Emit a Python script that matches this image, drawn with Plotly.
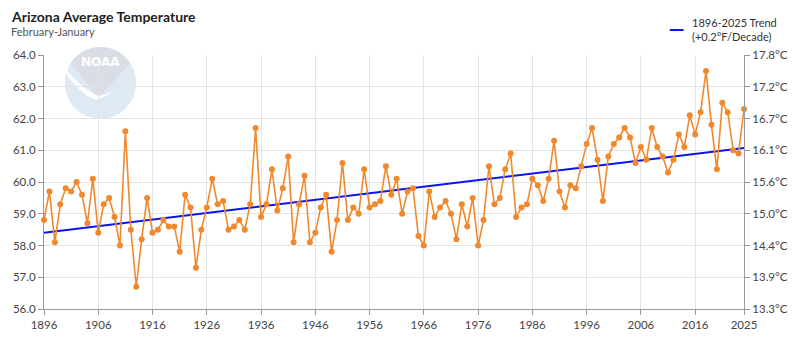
import numpy as np
import plotly.graph_objects as go

# Annual (February-January) average temperature for Arizona, degrees F
years = list(range(1896, 2026))
temps_f = [
    58.8, 59.7, 58.1, 59.3, 59.8, 59.7, 60.0, 59.6, 58.7, 60.1,  # 1896-1905
    58.4, 59.3, 59.5, 58.9, 58.0, 61.6, 58.5, 56.7, 58.2, 59.5,  # 1906-1915
    58.4, 58.5, 58.8, 58.6, 58.6, 57.8, 59.6, 59.2, 57.3, 58.5,  # 1916-1925
    59.2, 60.1, 59.3, 59.4, 58.5, 58.6, 58.8, 58.5, 59.3, 61.7,  # 1926-1935
    58.9, 59.3, 60.4, 59.1, 59.8, 60.8, 58.1, 59.3, 60.2, 58.1,  # 1936-1945
    58.4, 59.2, 59.6, 57.8, 58.8, 60.6, 58.8, 59.2, 59.0, 60.4,  # 1946-1955
    59.2, 59.3, 59.4, 60.5, 59.6, 60.1, 59.0, 59.7, 59.8, 58.3,  # 1956-1965
    58.0, 59.7, 58.9, 59.2, 59.4, 59.0, 58.2, 59.3, 58.6, 59.5,  # 1966-1975
    58.0, 58.8, 60.5, 59.3, 59.5, 60.4, 60.9, 58.9, 59.2, 59.3,  # 1976-1985
    60.1, 59.9, 59.4, 60.1, 61.3, 59.7, 59.2, 59.9, 59.8, 60.5,  # 1986-1995
    61.2, 61.7, 60.7, 59.4, 60.8, 61.2, 61.4, 61.7, 61.4, 60.6,  # 1996-2005
    61.1, 60.7, 61.7, 61.1, 60.8, 60.3, 60.7, 61.5, 61.1, 62.1,  # 2006-2015
    61.5, 62.2, 63.5, 61.8, 60.4, 62.5, 62.2, 61.0, 60.9, 62.3,  # 2016-2025
]
x_tick_years = [1896, 1906, 1916, 1926, 1936, 1946, 1956, 1966, 1976, 1986,
                1996, 2006, 2016, 2025]
f_ticks = [56, 57, 58, 59, 60, 61, 62, 63, 64]
c_tick_labels = [f"{(f - 32) * 5 / 9:.1f}°C" for f in f_ticks]

# Least-squares linear trend over the full record
slope, intercept = np.polyfit(years, temps_f, 1)
trend_x = [years[0], years[-1]]
trend_y = [slope * x + intercept for x in trend_x]
trend_name = f"{years[0]}-{years[-1]} Trend"
trend_rate = f"(+{slope * 10:.1f}°F/Decade)"

ORANGE = "#f0892e"
BLUE = "#0a14f0"
FONT = "Lato"
W, H = 800, 345
ML, MR, MT, MB = 44, 49, 55, 36
PW, PH = W - ML - MR, H - MT - MB


def px(x):
    return (x - ML) / PW


def py(y):
    return (H - MB - y) / PH


def poly_path(points):
    return "M " + " L ".join(f"{px(x):.5f},{py(y):.5f}" for x, y in points) + " Z"


fig = go.Figure()

fig.add_trace(go.Scatter(
    x=trend_x, y=trend_y, mode="lines",
    line=dict(color=BLUE, width=2), name=trend_name, hoverinfo="skip",
))
fig.add_trace(go.Scatter(
    x=years, y=temps_f, mode="lines+markers",
    line=dict(color=ORANGE, width=1.6),
    marker=dict(color=ORANGE, size=6),
    cliponaxis=False, name="Average Temperature",
))
# companion trace so the Celsius axis is laid out on the right
fig.add_trace(go.Scatter(
    x=years, y=temps_f, yaxis="y2", mode="lines",
    line=dict(width=0), opacity=0, hoverinfo="skip", showlegend=False,
))

# NOAA watermark: pale disc, grey upper crest and a white gull sweep
cx, cy, r = 101, 83, 36
shapes = [dict(type="circle", xref="paper", yref="paper", layer="below",
               x0=px(cx - r), x1=px(cx + r), y0=py(cy + r), y1=py(cy - r),
               fillcolor="#dfe9f4", line=dict(width=0))]
a0 = np.arcsin(20 / r)
angles = np.linspace(np.pi - a0, a0, 40)
crest = [(cx + r * np.cos(a), cy - r * np.sin(a)) for a in angles]
crest.append((cx - 2, 98))
shapes.append(dict(type="path", xref="paper", yref="paper", layer="below",
                   path=poly_path(crest), fillcolor="#d9dde5", line=dict(width=0)))
gull = [(66, 69), (74, 78), (84, 87), (93, 93), (99, 96), (106, 94), (113, 92),
        (104, 97), (97, 100), (88, 96), (78, 88), (68, 77)]
shapes.append(dict(type="path", xref="paper", yref="paper", layer="below",
                   path=poly_path(gull), fillcolor="#ffffff", line=dict(width=0)))

# legend key drawn by hand (short line swatch)
shapes.append(dict(type="line", xref="paper", yref="paper",
                   x0=px(676), x1=px(690), y0=py(30), y1=py(30),
                   line=dict(color=BLUE, width=2)))

annotations = [
    dict(text="<b>Arizona Average Temperature</b>", xref="paper", yref="paper",
         x=px(9), y=py(16), xanchor="left", yanchor="middle", showarrow=False,
         font=dict(family=FONT, size=14, color="#222222")),
    dict(text="February-January", xref="paper", yref="paper",
         x=px(9), y=py(32), xanchor="left", yanchor="middle", showarrow=False,
         font=dict(family=FONT, size=11, color="#555555")),
    dict(text=f"{trend_name}<br>{trend_rate}", xref="paper", yref="paper",
         x=px(696), y=py(30), xanchor="left", yanchor="middle", align="left",
         showarrow=False, font=dict(family=FONT, size=11, color="#333333")),
    dict(text="<b>NOAA</b>", xref="paper", yref="paper",
         x=px(cx), y=py(62), xanchor="center", yanchor="middle", showarrow=False,
         font=dict(family="DejaVu Sans", size=12, color="#ffffff")),
]

axis_common = dict(
    showline=True, linecolor="#999999", linewidth=1,
    ticks="outside", ticklen=5, tickcolor="#999999",
    tickfont=dict(family=FONT, size=11.5, color="#444444"),
    zeroline=False,
)

fig.update_layout(
    width=W, height=H,
    margin=dict(l=ML, r=MR, t=MT, b=MB, pad=0),
    paper_bgcolor="white", plot_bgcolor="white",
    showlegend=False,
    xaxis=dict(range=[1896, 2025], tickvals=x_tick_years,
               showgrid=True, gridcolor="#e3e3e3", **axis_common),
    yaxis=dict(range=[56, 64], tickvals=f_ticks, tickformat=".1f",
               ticksuffix="°F", showgrid=True, gridcolor="#e3e3e3",
               **axis_common),
    yaxis2=dict(range=[56, 64], tickvals=f_ticks, ticktext=c_tick_labels,
                overlaying="y", side="right", showgrid=False, **axis_common),
    shapes=shapes,
    annotations=annotations,
    font=dict(family=FONT),
)

fig.write_html("out.html")
